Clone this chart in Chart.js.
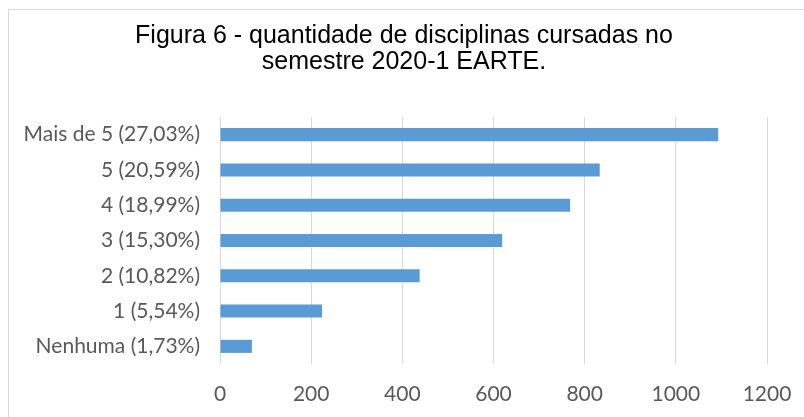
<!DOCTYPE html>
<html lang="pt">
<head>
  <meta charset="UTF-8">
  <title>Figura 6</title>
  <script src="https://cdn.jsdelivr.net/npm/chart.js"></script>
  <style>
    html, body { margin: 0; padding: 0; background: #fff; overflow: hidden; }
    #frame { position: absolute; left: 8px; top: 9px; width: 830px; height: 430px; border: 1px solid #d9d9d9; }
    #wrap { position: absolute; left: 0; top: 0; width: 804px; height: 417px; }
  </style>
</head>
<body>
  <div id="frame"></div>
  <div id="wrap"><canvas id="grafik" width="804" height="417"></canvas></div>

  <script>
    const categorias = ["Mais de 5 (27,03%)", "5 (20,59%)", "4 (18,99%)", "3 (15,30%)", "2 (10,82%)", "1 (5,54%)", "Nenhuma (1,73%)"];
    const quantidade = [1093, 833, 768, 619, 438, 224, 70];
    const titulo = ["Figura 6 - quantidade de disciplinas cursadas no", "semestre 2020-1 EARTE."];

    const fonteEixo = { family: "Lato, 'Open Sans', sans-serif", size: 21 };

    new Chart(document.getElementById("grafik"), {
      type: "bar",
      data: {
        labels: categorias,
        datasets: [{
          data: quantidade,
          backgroundColor: "#5b9bd5",
          categoryPercentage: 1,
          barPercentage: 0.37
        }]
      },
      options: {
        indexAxis: "y",
        responsive: false,
        animation: false,
        layout: { padding: { left: 4, right: 0, top: 0, bottom: 0 } },
        plugins: {
          legend: { display: false },
          tooltip: { enabled: false },
          title: {
            display: true,
            text: titulo,
            color: "#000",
            font: { family: "'Liberation Sans', Arial, sans-serif", size: 25, weight: "normal", lineHeight: 1.04 },
            padding: { top: 23, bottom: 42 }
          }
        },
        scales: {
          x: {
            min: 0,
            max: 1200,
            ticks: { stepSize: 200, color: "#595959", font: fonteEixo, padding: 18, callback: (v) => String(v) },
            grid: { color: "#d9d9d9", drawTicks: false },
            border: { display: false },
            afterFit: (s) => { s.height = 53; s.paddingLeft = 0; s.paddingRight = 0; }
          },
          y: {
            ticks: { color: "#595959", font: fonteEixo, padding: 20 },
            grid: { display: false, drawTicks: false },
            border: { display: false },
            afterFit: (s) => { s.width = 216; }
          },
          margem: {
            type: "linear",
            axis: "y",
            position: "right",
            display: true,
            ticks: { display: false },
            grid: { display: false, drawTicks: false },
            border: { display: false },
            afterFit: (s) => { s.width = 37; }
          }
        }
      }
    });
  </script>
</body>
</html>
